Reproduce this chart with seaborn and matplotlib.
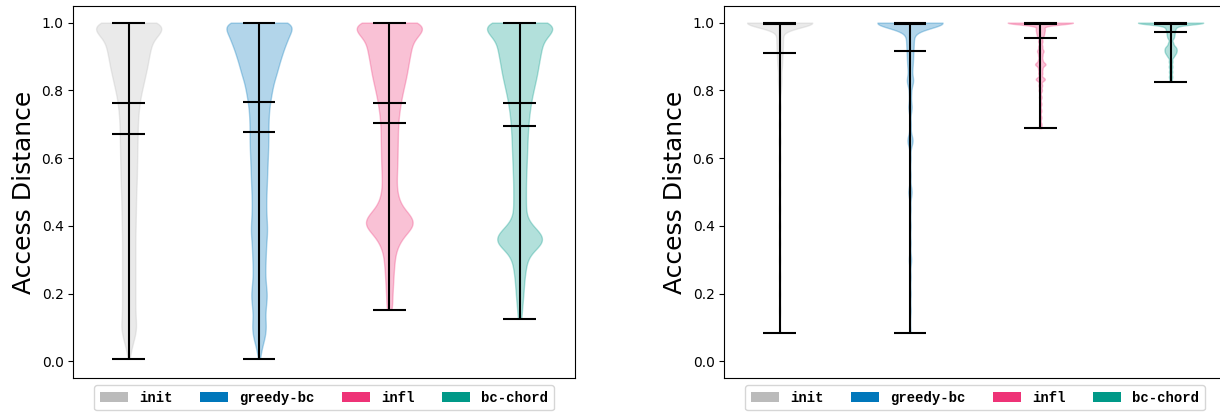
"""
Two violin panels of access distance per method, legend under each panel.
Saved to out.png.
"""

import matplotlib
matplotlib.use("Agg")
import matplotlib.pyplot as plt
from matplotlib.patches import Patch
import numpy as np
import seaborn as sns

METHODS = ["init", "greedy-bc", "infl", "bc-chord"]
COLORS = ["#BBBBBB", "#0077BB", "#EE3377", "#009988"]

LEVELS = [0.025, 0.05, 0.075, 0.1, 0.125, 0.15, 0.175, 0.2, 0.225, 0.25,
          0.275, 0.3, 0.325, 0.35, 0.375, 0.4, 0.425, 0.45, 0.475, 0.5,
          0.525, 0.55, 0.575, 0.6, 0.625, 0.65, 0.675, 0.7, 0.725, 0.75,
          0.775, 0.8, 0.825, 0.85, 0.875, 0.9, 0.925, 0.95, 0.975, 1.0]
INIT_LEFT = [5, 12, 20, 25, 22, 21, 21, 21, 21, 21,
             21, 21, 21, 21, 21, 22, 22, 23, 23, 24,
             25, 26, 26, 27, 27, 28, 28, 29, 30, 33,
             36, 42, 48, 54, 60, 64, 70, 75, 110, 120]
GREEDY_LEFT = [5, 12, 20, 23, 20, 20, 24, 26, 22, 20,
               20, 21, 22, 23, 26, 26, 24, 23, 23, 24,
               25, 26, 27, 28, 29, 30, 30, 30, 31, 33,
               37, 42, 47, 57, 63, 72, 80, 92, 100, 130]
INFL_LEFT = [0, 0, 0, 0, 0, 0, 9, 10, 12, 13,
             15, 17, 21, 32, 50, 82, 76, 45, 31, 25,
             23, 24, 25, 26, 26, 27, 27, 28, 30, 34,
             38, 44, 50, 56, 60, 65, 70, 75, 110, 120]
CHORD_LEFT = [0, 0, 0, 0, 0, 7, 10, 12, 14, 16,
              20, 24, 40, 80, 74, 40, 22, 20, 20, 20,
              20, 21, 22, 23, 24, 25, 26, 28, 30, 34,
              38, 44, 50, 56, 60, 65, 70, 75, 110, 120]
LEFT_MIN = [0.008, 0.008, 0.153, 0.126]
LEFT_MIN_COUNT = [2, 2, 8, 6]
LEFT_MAX = [1.0, 1.0, 1.0, 1.0]
LEFT_MEDIAN = [0.763, 0.767, 0.763, 0.763]
LEFT_MEAN = [0.671, 0.676, 0.704, 0.694]

# right panel: almost everything sits at 1.0, thin tails
INIT_RIGHT_VALUES = [0.085, 0.15, 0.2, 0.25, 0.3, 0.35, 0.4, 0.45, 0.5, 0.55, 0.6, 0.65,
                     0.7, 0.75, 0.8, 0.83, 0.86, 0.88, 0.9, 0.92, 0.94, 0.96, 0.98, 1.0]
INIT_RIGHT_COUNTS = [15, 25, 25, 25, 25, 25, 25, 25, 25, 25, 25, 30,
                     25, 30, 30, 45, 35, 40, 45, 50, 55, 60, 5, 1000]
GREEDY_RIGHT_VALUES = [0.085, 0.15, 0.2, 0.25, 0.3, 0.35, 0.4, 0.45, 0.5, 0.55, 0.6, 0.652,
                       0.7, 0.75, 0.79, 0.828, 0.86, 0.88, 0.9, 0.92, 0.94, 0.96, 0.98, 1.0]
GREEDY_RIGHT_COUNTS = [15, 20, 20, 20, 35, 20, 20, 20, 50, 20, 20, 80,
                       25, 50, 30, 90, 40, 45, 50, 55, 60, 65, 50, 1000]
INFL_RIGHT_VALUES = [0.688, 0.7, 0.72, 0.74, 0.76, 0.78, 0.8, 0.815, 0.833, 0.85, 0.863,
                     0.877, 0.89, 0.903, 0.916, 0.93, 0.945, 0.96, 0.97, 0.98, 0.99, 1.0]
INFL_RIGHT_COUNTS = [30, 35, 35, 35, 35, 40, 50, 55, 140, 60, 60,
                     155, 60, 60, 95, 60, 65, 80, 90, 110, 60, 1000]
CHORD_RIGHT_VALUES = [0.826, 0.84, 0.855, 0.87, 0.885, 0.9, 0.91, 0.919,
                      0.928, 0.94, 0.955, 0.965, 0.975, 0.985, 0.993, 1.0]
CHORD_RIGHT_COUNTS = [40, 50, 50, 55, 55, 80, 120, 130,
                      120, 70, 80, 90, 100, 120, 60, 1000]
RIGHT_MIN = [0.085, 0.085, 0.688, 0.826]
RIGHT_MAX = [1.0, 1.0, 1.0, 1.0]
RIGHT_MEDIAN = [0.995, 0.995, 0.995, 0.996]
RIGHT_MEAN = [0.909, 0.915, 0.956, 0.971]

LEFT_BW = [0.02, 0.02, 0.02, 0.02]
RIGHT_BW = [0.015, 0.016, 0.0055, 0.0055]


def draw_panel(ax, samples, bandwidths, mins, maxs, medians, means):
    for name, sample, color, bw in zip(METHODS, samples, COLORS, bandwidths):
        n_before = len(ax.collections)
        sns.violinplot(x=[name] * len(sample), y=sample, order=METHODS, ax=ax,
                       color=color, saturation=1, linecolor=color, linewidth=1,
                       inner=None, cut=0, width=0.5, density_norm="width",
                       bw_method=bw / np.std(sample, ddof=1), gridsize=800)
        for coll in ax.collections[n_before:]:
            coll.set_alpha(0.3)

    pos = np.arange(len(METHODS))
    ax.vlines(pos, mins, maxs, color="black", lw=1.5)
    for vals in (mins, maxs, medians, means):
        ax.hlines(vals, pos - 0.125, pos + 0.125, color="black", lw=1.5)

    ax.set_xlim(-0.425, 3.425)
    ax.set_ylim(-0.05, 1.05)
    ax.set_xticks([])
    ax.set_xlabel("")
    ax.set_ylabel("Access Distance", fontsize=18)

    handles = [Patch(facecolor=c, edgecolor="none", label=n) for n, c in zip(METHODS, COLORS)]
    ax.legend(handles=handles, loc="upper center", bbox_to_anchor=(0.5, 0), ncol=4,
              prop={"family": "Liberation Mono", "weight": "bold", "size": 10})


def main():
    left_samples = [
        np.repeat([LEFT_MIN[i]] + LEVELS, [LEFT_MIN_COUNT[i]] + counts)
        for i, counts in enumerate([INIT_LEFT, GREEDY_LEFT, INFL_LEFT, CHORD_LEFT])
    ]
    right_samples = [
        np.repeat(INIT_RIGHT_VALUES, INIT_RIGHT_COUNTS),
        np.repeat(GREEDY_RIGHT_VALUES, GREEDY_RIGHT_COUNTS),
        np.repeat(INFL_RIGHT_VALUES, INFL_RIGHT_COUNTS),
        np.repeat(CHORD_RIGHT_VALUES, CHORD_RIGHT_COUNTS),
    ]

    fig = plt.figure(figsize=(12.2, 4.12), dpi=100)
    ax1 = fig.add_axes([0.0601, 0.0818, 0.4112, 0.9044])
    ax2 = fig.add_axes([0.5937, 0.0818, 0.4112, 0.9044])

    draw_panel(ax1, left_samples, LEFT_BW, LEFT_MIN, LEFT_MAX, LEFT_MEDIAN, LEFT_MEAN)
    draw_panel(ax2, right_samples, RIGHT_BW, RIGHT_MIN, RIGHT_MAX, RIGHT_MEDIAN, RIGHT_MEAN)

    fig.savefig("out.png", dpi=100)
    plt.close(fig)


if __name__ == "__main__":
    main()
